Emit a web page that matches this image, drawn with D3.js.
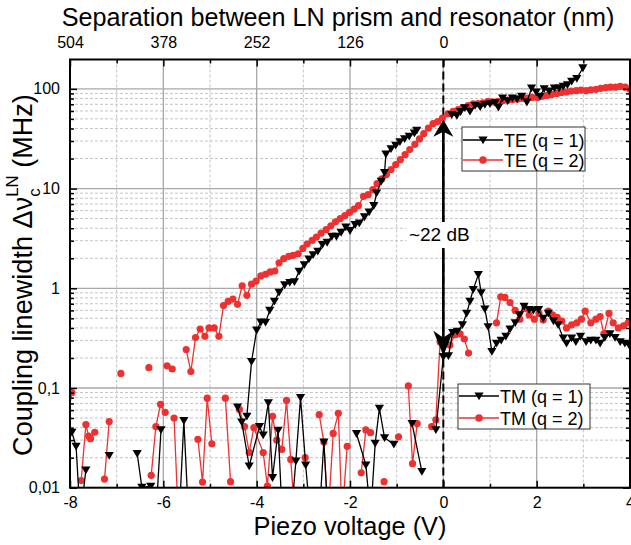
<!DOCTYPE html>
<html><head><meta charset="utf-8">
<script src="https://cdn.jsdelivr.net/npm/d3@7"></script>
<style>
body{margin:0;background:#fff}
svg{display:block}
text{font-family:"Liberation Sans",Arial,sans-serif;fill:#000}
</style>
</head><body>
<svg id="c" width="631" height="545"></svg>
<script>
// ---------- data ----------
const xTickValues = [-8, -6, -4, -2, 0, 2, 4];
const xTickLabels = ["-8", "-6", "-4", "-2", "0", "2", "4"];
const topTickLabels = ["504", "378", "252", "126", "0", "", ""];
const yTickValues = [0.01, 0.1, 1, 10, 100];
const yTickLabels = ["0,01", "0,1", "1", "10", "100"];

const seriesNames = ["TE (q = 1)", "TE (q = 2)", "TM (q = 1)", "TM (q = 2)"];

// TE, q = 1 (black triangles)
const te1Volt = [-4.21,-4.11,-4.0,-3.91,-3.81,-3.72,-3.62,-3.52,-3.40,-3.29,-3.19,-3.09,-2.98,-2.88,-2.79,-2.69,-2.59,-2.49,-2.39,-2.29,-2.19,-2.09,-2.0,-1.89,-1.8,-1.69,-1.59,-1.49,-1.43,-1.33,-1.26,-1.23,-1.12,-1.02,-0.93,-0.83,-0.73,-0.62,-0.57,null,0.18,0.29,0.37,0.46,0.57,0.68,0.79,0.89,1.0,1.11,1.18,1.27,1.38,1.48,1.58,1.68,1.79,1.89,1.99,2.07,2.16,2.27,2.38,2.48,2.57,2.66,2.75,2.86,2.99];
const te1Width = [0.052,0.184,0.38,0.457,0.455,0.60,0.74,0.91,1.08,1.14,1.16,1.48,1.72,1.96,2.17,2.35,2.74,2.88,3.31,3.31,3.63,4.11,3.78,4.34,4.5,5.19,5.82,6.73,9.0,11.8,14.5,22.2,25,27.2,29.4,31.5,33.4,36.1,38.4,null,55,54,59,64.5,59.6,68,66,69.6,70.7,72.3,65.3,81,76,81,79,84,73.5,102,93,84,100,95,102,102,106,110,119,127,162];

// TE, q = 2 (red circles)
const te2Volt = [-6.91,null,-6.31,null,-5.92,-5.81,null,-5.51,-5.41,-5.31,-5.21,-5.11,-5.02,-4.91,-4.81,-4.71,-4.61,-4.51,-4.41,-4.31,-4.21,-4.11,-4.01,-3.91,-3.81,-3.71,-3.61,-3.52,-3.42,-3.31,-3.22,-3.11,-3.01,-2.92,-2.81,-2.72,-2.62,-2.51,-2.41,-2.31,-2.21,-2.11,-2.01,-1.91,-1.82,-1.71,-1.61,-1.51,-1.42,-1.32,-1.22,-1.12,-1.02,-0.92,-0.82,-0.72,-0.61,-0.51,-0.42,-0.32,-0.22,-0.12,-0.02,0.10,0.21,0.32,0.42,0.53,0.64,0.74,0.85,0.96,1.06,1.17,1.27,1.38,1.48,1.59,1.69,1.80,1.90,2.01,2.11,2.22,2.32,2.43,2.53,2.64,2.74,2.85,2.95,3.06,3.16,3.27,3.37,3.48,3.58,3.69,3.79,3.90,4.0];
const te2Width = [0.14,null,0.16,null,0.167,0.155,null,0.243,0.146,0.32,0.39,0.33,0.40,0.40,0.33,0.67,0.74,0.78,0.69,1.06,0.85,1.10,1.18,1.33,1.38,1.46,1.49,1.80,1.98,2.09,2.14,2.22,2.51,2.78,3.02,3.27,3.58,3.87,4.24,4.65,4.99,5.35,5.77,6.23,6.73,8.36,8.69,9.75,11.2,12.5,13.8,15.5,17.4,19.5,21.9,24.6,27.8,31.5,35.5,40.3,44.8,47,51,56,59.6,62,65,68,70.7,71,72.3,75,74,75,76,77,78,79,80,81,82,82,84,86,88,90,92,93,95,96,97,96,98,99,101,103,104,104,106,104,99];

// TM, q = 1 (black triangles)
const tm1Volt = [-7.96,-7.87,-7.78,-7.66,null,-7.16,null,-6.56,-6.46,-6.27,-6.16,-6.05,null,-5.66,-5.56,-5.46,null,-4.41,-4.32,-4.16,-3.94,-3.86,-3.75,-3.66,-3.54,-3.45,null,-3.26,-3.16,-3.06,-2.95,-2.85,null,-2.66,-2.56,-2.47,null,-1.86,-1.66,-1.56,-1.46,-1.37,-1.26,-1.06,null,-0.67,-0.46,null,-0.16,0.0,0.11,0.2,0.3,0.41,0.5,0.57,0.64,0.75,0.81,0.89,0.96,1.04,1.14,1.24,1.34,1.43,1.54,1.63,1.73,1.84,1.93,2.04,2.14,2.25,2.36,2.46,2.57,2.64,2.75,2.84,2.94,3.06,3.16,3.27,3.36,3.46,3.57,3.68,3.79,3.89,3.98];
const tm1Width = [0.036,0.026,0.005,0.015,null,0.021,null,0.022,0.0101,0.0103,0.005,0.038,null,0.005,0.047,0.005,null,0.0645,0.0456,0.0165,0.041,0.0337,0.071,0.0126,0.0376,0.005,null,0.005,0.0185,0.080,0.0169,0.005,null,0.005,0.0287,0.005,null,0.0348,0.0169,0.005,0.0279,0.0625,0.0317,0.0272,null,0.044,0.0145,null,0.038,0.206,0.21,0.36,0.37,0.43,0.56,0.74,0.97,1.37,0.90,0.62,0.41,0.232,0.28,0.30,0.33,0.39,0.45,0.54,0.66,0.61,0.60,0.61,0.50,0.56,0.47,0.43,0.316,0.28,0.316,0.29,0.33,0.29,0.30,0.30,0.28,0.32,0.35,0.32,0.29,0.28,0.27];

// TM, q = 2 (red circles)
const tm2Volt = [-8.05,-7.96,null,-7.76,-7.66,-7.60,-7.56,-7.47,null,-7.26,-7.16,null,-6.26,-6.16,-6.06,-5.96,null,-5.77,-5.68,null,-5.26,-5.16,-5.06,-4.96,null,-4.67,-4.56,null,-4.37,-4.26,-4.16,-4.06,-3.86,-3.77,-3.66,-3.57,-3.46,-3.36,-3.27,-3.18,null,-2.96,null,-2.66,-2.56,-2.47,-2.36,-2.25,-2.17,-2.06,null,-1.76,-1.66,-1.56,null,-1.27,null,-0.96,null,-0.75,-0.66,-0.56,null,-0.25,-0.16,-0.07,0.04,0.14,0.25,0.36,0.45,0.54,null,1.14,1.23,1.32,1.43,1.54,1.64,1.75,1.84,1.95,2.05,2.14,2.25,2.34,2.44,2.54,2.64,2.75,2.86,2.96,3.04,3.16,3.27,3.36,3.44,3.55,3.64,3.75,3.86,3.96];
const tm2Width = [0.05,0.090,null,0.0118,0.043,0.033,0.031,0.036,null,0.0122,0.046,null,0.0133,0.041,0.0686,0.057,null,0.050,0.005,null,0.0306,0.0114,0.079,0.0276,null,0.079,0.0115,null,0.061,0.041,0.0226,0.040,0.0225,0.0104,0.052,0.030,0.0242,0.075,0.0192,0.005,null,0.020,null,0.054,0.0287,0.005,0.035,0.0557,0.005,0.026,null,0.0141,0.038,0.0356,null,0.0115,null,0.0324,null,0.105,0.0174,0.044,null,0.041,0.0478,0.29,0.28,0.27,0.34,0.35,0.31,0.224,null,0.45,0.82,0.81,0.72,0.60,0.49,0.63,0.54,0.49,0.56,0.48,0.59,0.54,0.51,0.47,0.40,0.43,0.45,0.49,0.59,0.45,0.49,0.52,0.35,0.56,0.45,0.40,0.42,0.45];

const arrowLabel = "~22 dB";
const arrowVolt = 0;
const arrowFrom = 49;   // MHz (TE level at the dashed line)
const arrowTo = 0.21;   // MHz (TM level at the dashed line)

// ---------- layout ----------
const W = 631, H = 545;
const L = 70, R = 630, T = 59.5, B = 487.7;
const RED = "#ee3030";

const x = d3.scaleLinear().domain([-8, 4]).range([L, R]);
const y = d3.scaleLog().domain([0.01, 197]).range([B, T]);

const svg = d3.select("#c");
svg.append("rect").attr("width", W).attr("height", H).attr("fill", "#fff");
svg.append("defs").append("clipPath").attr("id", "clip")
  .append("rect").attr("x", L).attr("y", T).attr("width", R - L).attr("height", B - T);

// minor tick positions
const xMinor = d3.range(-7, 4, 2);
const yMinor = [];
yTickValues.forEach(d => { for (let k = 2; k <= 9; k++) { const v = d * k; if (v <= 197) yMinor.push(v); } });

// ---------- grid ----------
const grid = svg.append("g");
grid.selectAll("line.gvm").data(xMinor).join("line")
  .attr("x1", d => x(d)).attr("x2", d => x(d)).attr("y1", T).attr("y2", B)
  .attr("stroke", "#c4c4c4").attr("stroke-width", 1).attr("stroke-dasharray", "3,2");
grid.selectAll("line.ghm").data(yMinor).join("line")
  .attr("x1", L).attr("x2", R).attr("y1", d => y(d)).attr("y2", d => y(d))
  .attr("stroke", "#c4c4c4").attr("stroke-width", 1).attr("stroke-dasharray", "3,2");
grid.selectAll("line.gvM").data(xTickValues.slice(1, -1)).join("line")
  .attr("x1", d => x(d)).attr("x2", d => x(d)).attr("y1", T).attr("y2", B)
  .attr("stroke", "#a8a8a8").attr("stroke-width", 1.3);
grid.selectAll("line.ghM").data(yTickValues.slice(1)).join("line")
  .attr("x1", L).attr("x2", R).attr("y1", d => y(d)).attr("y2", d => y(d))
  .attr("stroke", "#a8a8a8").attr("stroke-width", 1.3);

// dashed line at 0 V
svg.append("line").attr("x1", x(0)).attr("x2", x(0)).attr("y1", T).attr("y2", B)
  .attr("stroke", "#000").attr("stroke-width", 2).attr("stroke-dasharray", "8,4");

// ---------- series ----------
const zip = (a, b) => a.map((v, i) => ({ v, w: b[i] }));
const line = d3.line().defined(d => d.v != null && d.w != null)
  .x(d => x(d.v)).y(d => y(d.w));
const plot = svg.append("g").attr("clip-path", "url(#clip)");
const triPath = "M-4.6,-3.6L4.6,-3.6L0,4.2Z";

function drawSeries(volts, widths, color, shape) {
  const data = zip(volts, widths);
  plot.append("path").datum(data).attr("d", line)
    .attr("fill", "none").attr("stroke", color).attr("stroke-width", 1.3);
  const pts = data.filter(d => d.v != null && d.w != null);
  if (shape === "circle") {
    plot.append("g").selectAll("circle").data(pts).join("circle")
      .attr("cx", d => x(d.v)).attr("cy", d => y(d.w)).attr("r", 3.6).attr("fill", color);
  } else {
    plot.append("g").selectAll("path").data(pts).join("path")
      .attr("transform", d => `translate(${x(d.v)},${y(d.w)})`).attr("d", triPath).attr("fill", color);
  }
}
drawSeries(tm2Volt, tm2Width, RED, "circle");
drawSeries(tm1Volt, tm1Width, "#000", "tri");
drawSeries(te2Volt, te2Width, RED, "circle");
drawSeries(te1Volt, te1Width, "#000", "tri");

// ---------- axes ----------
function styleAxis(g) {
  g.select(".domain").remove();
  g.selectAll(".tick line").attr("stroke", "#000").attr("stroke-width", 1.5);
  g.selectAll(".tick text").attr("font-size", 16).attr("font-family", '"Liberation Sans",Arial,sans-serif').attr("fill", "#000");
}
svg.append("g").attr("transform", `translate(0,${B})`)
  .call(d3.axisBottom(x).tickValues(xTickValues).tickFormat((d, i) => xTickLabels[i]).tickSize(-7).tickPadding(9)).call(styleAxis);
svg.append("g").attr("transform", `translate(0,${B})`)
  .call(d3.axisBottom(x).tickValues(xMinor).tickFormat("").tickSize(-4)).call(styleAxis);
svg.append("g").attr("transform", `translate(0,${T})`)
  .call(d3.axisTop(x).tickValues(xTickValues).tickFormat((d, i) => topTickLabels[i]).tickSize(-7).tickPadding(12)).call(styleAxis);
svg.append("g").attr("transform", `translate(0,${T})`)
  .call(d3.axisTop(x).tickValues(xMinor).tickFormat("").tickSize(-4)).call(styleAxis);
svg.append("g").attr("transform", `translate(${L},0)`)
  .call(d3.axisLeft(y).tickValues(yTickValues).tickFormat((d, i) => yTickLabels[i]).tickSize(-7).tickPadding(10)).call(styleAxis);
svg.append("g").attr("transform", `translate(${L},0)`)
  .call(d3.axisLeft(y).tickValues(yMinor).tickFormat("").tickSize(-4)).call(styleAxis);
svg.append("g").attr("transform", `translate(${R},0)`)
  .call(d3.axisRight(y).tickValues(yTickValues).tickFormat("").tickSize(-7)).call(styleAxis);
svg.append("g").attr("transform", `translate(${R},0)`)
  .call(d3.axisRight(y).tickValues(yMinor).tickFormat("").tickSize(-4)).call(styleAxis);

// frame
svg.append("rect").attr("x", L).attr("y", T).attr("width", R - L).attr("height", B - T)
  .attr("fill", "none").attr("stroke", "#000").attr("stroke-width", 2);

// ---------- arrow + label ----------
const ax = x(arrowVolt);
const yTop = y(arrowFrom), yBot = y(arrowTo);
const boxTop = 222, boxBot = 248;
svg.append("line").attr("x1", ax).attr("x2", ax).attr("y1", yTop + 10).attr("y2", yBot - 18)
  .attr("stroke", "#000").attr("stroke-width", 2.6);
svg.append("path").attr("d", `M${ax},${yTop}L${ax - 10},${yTop + 17}L${ax},${yTop + 12}L${ax + 10},${yTop + 17}Z`).attr("fill", "#000");
svg.append("path").attr("d", `M${ax},${yBot}L${ax - 10},${yBot - 25}L${ax},${yBot - 18}L${ax + 10},${yBot - 25}Z`).attr("fill", "#000");
svg.append("rect").attr("x", ax - 37).attr("y", boxTop).attr("width", 70).attr("height", boxBot - boxTop).attr("fill", "#fff");
svg.append("text").attr("x", ax - 4).attr("y", 241).attr("text-anchor", "middle").attr("font-size", 19).text(arrowLabel);

// ---------- legends ----------
function legend(x0, y0, w, h, rows, labels, colors, shapes) {
  const g = svg.append("g");
  g.append("rect").attr("x", x0).attr("y", y0).attr("width", w).attr("height", h)
    .attr("fill", "#fff").attr("stroke", "#333").attr("stroke-width", 1);
  labels.forEach((lab, i) => {
    const ry = y0 + rows[i];
    g.append("line").attr("x1", x0 + 1).attr("x2", x0 + 41).attr("y1", ry).attr("y2", ry)
      .attr("stroke", colors[i]).attr("stroke-width", 1.3);
    if (shapes[i] === "circle") g.append("circle").attr("cx", x0 + 21).attr("cy", ry).attr("r", 3.8).attr("fill", colors[i]);
    else g.append("path").attr("transform", `translate(${x0 + 21},${ry})`).attr("d", triPath).attr("fill", colors[i]);
    g.append("text").attr("x", x0 + 42).attr("y", ry + 6.5).attr("font-size", 18).text(lab);
  });
}
legend(462, 127, 123, 44, [13, 33], seriesNames.slice(0, 2), ["#000", RED], ["tri", "circle"]);
legend(458, 384, 132, 45, [12, 34], seriesNames.slice(2, 4), ["#000", RED], ["tri", "circle"]);

// ---------- titles ----------
function fit(sel, target) {
  const w = sel.node().getComputedTextLength();
  sel.attr("font-size", parseFloat(sel.attr("font-size")) * target / w);
}
const topTitle = svg.append("text").attr("x", 338).attr("y", 26).attr("text-anchor", "middle")
  .attr("font-size", 25).text("Separation between LN prism and resonator (nm)");
fit(topTitle, 553);
const xTitle = svg.append("text").attr("x", 350).attr("y", 535).attr("text-anchor", "middle")
  .attr("font-size", 25).text("Piezo voltage (V)");
fit(xTitle, 193);

const yt = svg.append("text").attr("transform", "translate(32,275) rotate(-90)").attr("text-anchor", "middle");
function buildYT(F) {
  yt.selectAll("*").remove();
  yt.attr("font-size", F);
  yt.append("tspan").text("Coupling linewidth Δν");
  yt.append("tspan").attr("font-size", F * 0.62).attr("dy", F * 0.28).text("c");
  yt.append("tspan").attr("font-size", F * 0.62).attr("dx", -F * 0.62 * 0.5).attr("dy", -F * 0.28 - F * 0.5).text("LN");
  yt.append("tspan").attr("dy", F * 0.5).text(" (MHz)");
}
buildYT(25);
const yw = yt.node().getBBox().width;
buildYT(25 * 362 / yw);
</script>
</body></html>
